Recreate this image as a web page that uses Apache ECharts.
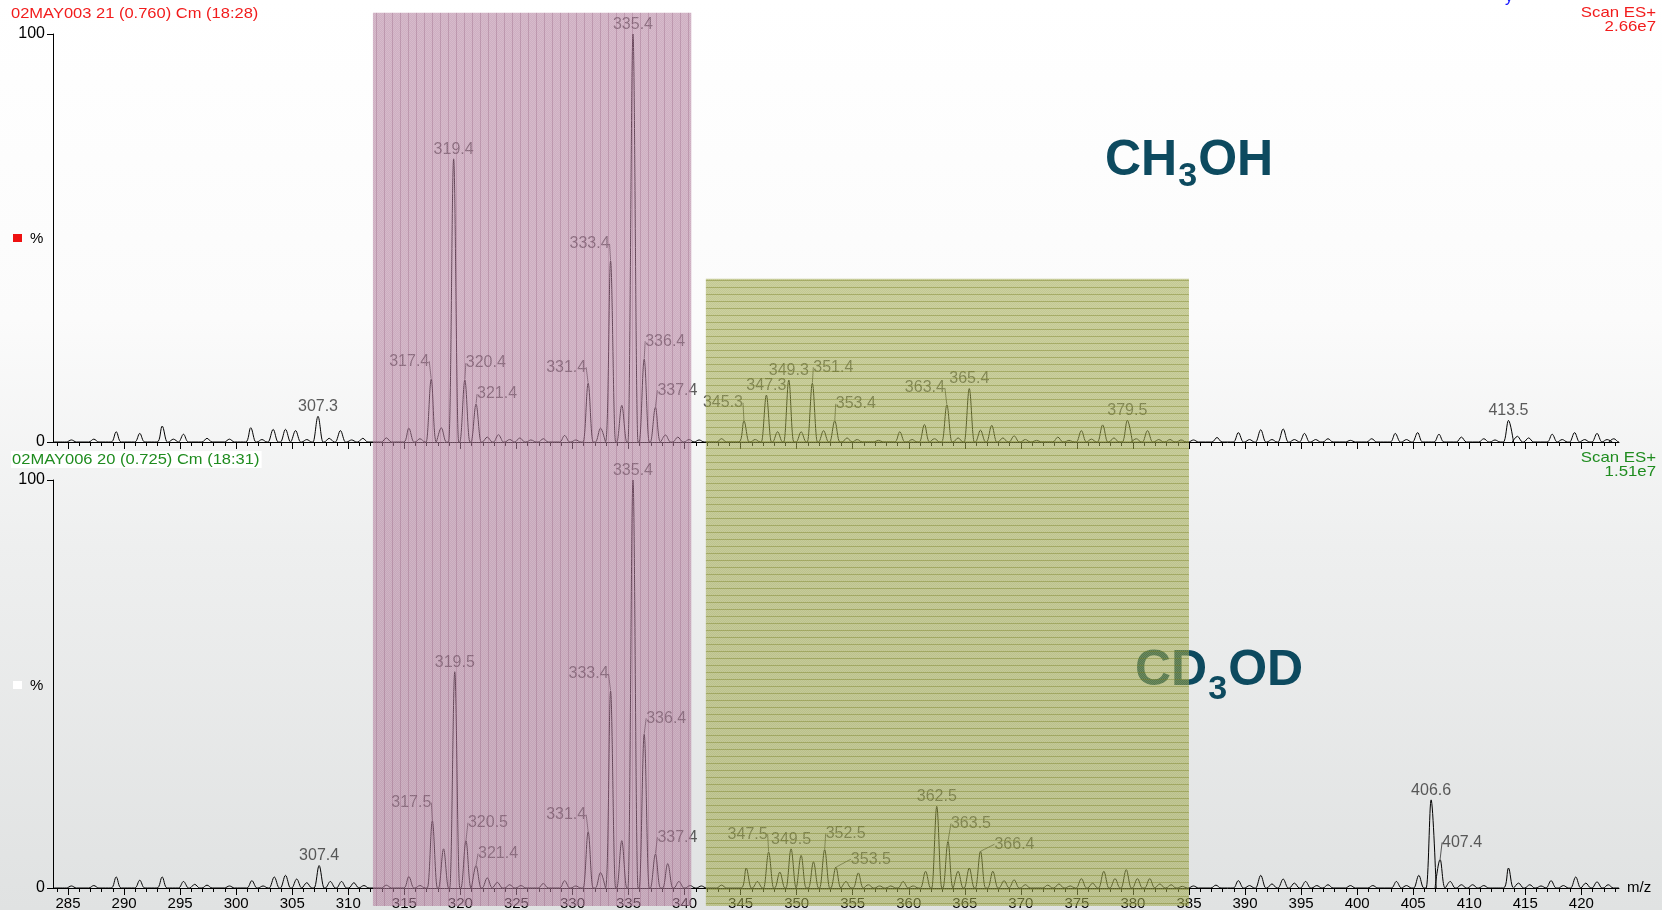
<!DOCTYPE html>
<html><head><meta charset="utf-8">
<script src="https://cdn.jsdelivr.net/npm/echarts@6/dist/echarts.min.js"></script>
<style>
html,body{margin:0;padding:0;}
#c{width:1662px;height:910px;background:linear-gradient(to bottom,#ffffff 0%,#fbfbfb 35%,#eeefef 60%,#e0e2e2 100%);}
</style></head><body><div id="c"></div>
<script>
// ---------- DATA ----------
const xMin = 283.66, xMax = 423.36;
const majorTicks = [285,290,295,300,305,310,315,320,325,330,335,340,345,350,355,360,365,370,375,380,385,390,395,400,405,410,415,420];
const minorTicks = [];
for (let v = 284; v <= 423; v++) minorTicks.push(v);

// top spectrum (CH3OH), relative intensity %
const topMz = [285.3,287.3,289.3,291.4,293.4,294.4,295.3,297.4,299.4,301.3,302.3,303.3,304.4,305.3,306.3,307.3,308.3,309.3,310.3,311.3,313.4,315.4,316.4,317.4,318.3,319.4,320.4,321.4,322.4,323.4,324.4,325.3,326.3,327.4,329.3,330.3,331.4,332.5,333.4,334.4,335.4,336.4,337.4,338.3,339.4,340.4,341.3,343.3,345.3,346.3,347.3,348.3,349.3,350.4,351.4,352.4,353.4,354.5,355.4,357.3,359.2,360.3,361.4,362.3,363.4,364.4,365.4,366.4,367.4,368.4,369.4,370.4,371.4,373.3,374.3,375.4,376.3,377.3,378.3,379.5,380.3,381.3,382.3,383.3,384.3,385.4,387.5,389.4,390.4,391.4,392.4,393.4,394.4,395.3,396.3,397.4,399.4,401.3,403.4,404.4,405.4,407.3,409.3,411.3,412.3,413.5,414.3,415.3,417.4,418.3,419.4,420.3,421.4,422.3,422.9];
const topInt = [0.5,0.7,2.5,2.1,3.9,0.7,1.9,0.9,0.7,3.5,0.6,3.1,3.1,2.8,0.6,6.3,0.9,2.8,0.5,0.9,1.0,3.4,0.8,15.4,3.5,69.4,15.2,9.3,1.2,1.8,0.6,1.0,0.5,0.8,1.6,0.5,14.4,3.4,44.4,9.0,100,20.3,8.5,1.7,1.2,0.6,0.5,0.8,5.2,0.6,11.5,2.5,15.2,2.5,14.4,2.8,5.2,1.0,0.6,0.4,2.5,0.6,4.3,0.8,9.1,1.0,13.1,2.9,4.1,1.0,1.5,0.6,0.4,1.2,0.4,2.8,0.7,4.2,1.0,5.3,0.8,2.8,0.6,0.6,0.5,0.5,1.1,2.3,0.6,3.0,0.6,3.2,0.6,2.1,0.6,0.8,0.4,0.8,2.1,0.6,2.3,1.9,1.2,0.8,0.5,5.3,1.4,1.0,1.9,0.6,2.3,0.6,2.1,0.6,0.8];

// bottom spectrum (CD3OD)
const botMz = [285.3,287.3,289.3,291.4,293.4,295.3,296.3,297.4,299.4,301.4,302.4,303.4,304.4,305.4,306.3,307.4,308.4,309.4,310.5,311.4,313.4,315.4,316.4,317.5,318.5,319.5,320.5,321.4,322.4,323.3,324.4,325.4,327.4,329.3,330.3,331.4,332.5,333.4,334.4,335.4,336.4,337.4,338.5,339.5,340.5,341.5,343.3,345.5,346.5,347.5,348.5,349.5,350.4,351.5,352.5,353.5,354.4,355.5,356.4,357.4,358.4,359.5,360.4,361.5,362.5,363.5,364.4,365.4,366.4,367.5,368.5,369.4,370.4,372.4,373.4,374.4,375.4,376.4,377.4,378.4,379.4,380.4,381.5,382.4,383.4,384.4,385.4,387.4,389.4,390.4,391.4,392.4,393.4,394.4,395.4,396.4,397.4,399.4,401.4,403.5,404.4,405.5,406.6,407.4,408.3,409.3,410.3,411.3,413.5,414.4,415.4,416.4,417.3,418.4,419.5,420.4,421.4,422.4];
const botInt = [0.5,0.6,2.7,1.9,2.7,1.6,0.9,0.7,0.5,1.8,0.5,2.7,3.1,2.2,1.3,5.5,1.6,1.6,1.3,0.6,0.7,2.8,0.6,16.5,9.6,53,11.6,5.5,2.5,1.4,0.8,0.6,1.1,1.8,0.5,13.8,3.8,48.3,11.6,100,37.7,8.3,6.0,1.6,0.6,0.5,0.7,4.9,1.6,8.8,3.9,9.6,8.0,6.4,9.4,5.1,1.6,3.7,0.8,0.5,0.5,1.6,0.5,4.1,20.0,11.4,4.1,4.9,9.0,4.1,1.8,2.0,0.8,0.7,1.0,0.5,2.3,1.2,4.1,2.3,4.5,2.3,2.3,1.0,0.8,0.4,0.5,0.7,1.8,0.6,3.1,1.0,2.2,1.2,1.6,0.6,0.8,0.6,0.6,1.6,0.6,3.1,21.6,7.0,1.6,0.8,0.8,0.6,4.9,1.2,0.8,0.5,1.8,0.6,2.7,1.2,1.5,0.8];

// labelled peaks
const topAboveLabels = ['307.3','319.4','335.4','347.3','349.3','365.4','379.5','413.5'];
const topLeaderLabels = ['317.4','320.4','321.4','331.4','333.4','336.4','337.4','345.3','351.4','353.4','363.4'];
const botAboveLabels = ['307.4','319.5','335.4','349.5','362.5','406.6'];
const botLeaderLabels = ['317.5','320.5','321.4','331.4','333.4','336.4','337.4','347.5','352.5','353.5','363.5','366.4','407.4'];

// highlighted m/z ranges
const regionFrom = [312.2, 341.9];
const regionTo = [340.6, 385.0];
const regionTopPct = [105.2, 40.0];   // upper edge, in % of the top panel
const regionBottomPct = -4.4;         // lower edge, in % of the bottom panel

// ---------- LAYOUT / STYLE ----------
const topLeaderOff = [[-22,-18],[21,-17],[21,-10],[-22,-16],[-21,-17],[21,-18],[22,-17],[-21,-18],[21,-16],[21,-17],[-22,-17]];
const botLeaderOff = [[-21,-18],[22,-18],[22,-12],[-22,-17],[-22,-17],[22,-16],[22,-17],[-21,-18],[21,-16],[35,-8],[23,-18],[34,-7],[22,-17]];
const HW = 0.45;
const FONT = "'Liberation Sans', Arial, sans-serif";

function profile(mz, inten) {
  const pts = [[xMin, 0]];
  for (let i = 0; i < mz.length; i++) {
    pts.push([mz[i] - HW, 0], [mz[i], inten[i]], [mz[i] + HW, 0]);
  }
  pts.push([xMax, 0]);
  return pts;
}
function labelData(labels, mz, inten) {
  return labels.map(t => {
    const v = parseFloat(t);
    let best = 0;
    for (let i = 0; i < mz.length; i++) if (Math.abs(mz[i] - v) < Math.abs(mz[best] - v)) best = i;
    return { value: [mz[best], inten[best]], name: t };
  });
}

const chart = echarts.init(document.getElementById('c'), null, { renderer: 'canvas' });

function xAxes(gridIndex, withLabels) {
  return [
    { type: 'value', gridIndex, position: 'bottom', min: xMin, max: xMax,
      name: withLabels ? 'm/z' : '', nameLocation: 'end', nameGap: 8,
      nameTextStyle: { color: '#000', fontSize: 15, fontFamily: FONT },
      axisLine: { show: true, lineStyle: { color: '#000', width: 1 } },
      axisTick: { show: true, customValues: majorTicks, length: 7, lineStyle: { color: '#000' } },
      axisLabel: { show: withLabels, customValues: majorTicks, color: '#000', fontSize: 15, fontFamily: FONT, margin: 8 },
      splitLine: { show: false } },
    { type: 'value', gridIndex, position: 'bottom', min: xMin, max: xMax,
      axisLine: { show: false },
      axisTick: { show: true, customValues: minorTicks, length: 4, lineStyle: { color: '#000' } },
      axisLabel: { show: false }, splitLine: { show: false } }
  ];
}
function yAxis(gridIndex) {
  return { type: 'value', gridIndex, min: 0, max: 100, interval: 100,
    axisLine: { show: true, lineStyle: { color: '#000' } },
    axisTick: { show: true, length: 6, lineStyle: { color: '#000' } },
    axisLabel: { color: '#000', fontSize: 16, fontFamily: FONT, margin: 8 },
    splitLine: { show: false } };
}
const lblStyle = { show: true, color: '#333', fontSize: 16, fontFamily: FONT, formatter: '{b}' };

function labelSeries(xi, yi, aboveData, leaderData, offs) {
  return [
    { type: 'scatter', xAxisIndex: xi, yAxisIndex: yi, symbolSize: 1, z: 5,
      itemStyle: { color: 'rgba(0,0,0,0)' }, silent: true,
      data: aboveData, label: Object.assign({ position: 'top', distance: 1 }, lblStyle) },
    { type: 'scatter', xAxisIndex: xi, yAxisIndex: yi, symbolSize: 1, z: 5,
      itemStyle: { color: 'rgba(0,0,0,0)' }, silent: true,
      data: leaderData, label: Object.assign({ position: 'inside' }, lblStyle),
      labelLayout: p => ({ dx: offs[p.dataIndex][0], dy: offs[p.dataIndex][1] }),
      labelLine: { show: true, lineStyle: { color: '#333', width: 0.8 } } }
  ];
}

const option = {
  animation: false,
  grid: [
    { left: 53, right: 43, top: 34, height: 408, outerBoundsMode: 'none', containLabel: false },
    { left: 53, right: 43, top: 480, height: 408, outerBoundsMode: 'none', containLabel: false }
  ],
  xAxis: xAxes(0, false).concat(xAxes(1, true)),
  yAxis: [yAxis(0), yAxis(1)],
  series: [
    { type: 'line', xAxisIndex: 0, yAxisIndex: 0, data: profile(topMz, topInt), showSymbol: false,
      smooth: 0.35, lineStyle: { color: '#000', width: 1 }, z: 3 },
    { type: 'line', xAxisIndex: 2, yAxisIndex: 1, data: profile(botMz, botInt), showSymbol: false,
      smooth: 0.35, lineStyle: { color: '#000', width: 1 }, z: 3 }
  ].concat(
    labelSeries(0, 0, labelData(topAboveLabels, topMz, topInt), labelData(topLeaderLabels, topMz, topInt), topLeaderOff),
    labelSeries(2, 1, labelData(botAboveLabels, botMz, botInt), labelData(botLeaderLabels, botMz, botInt), botLeaderOff)
  )
};
chart.setOption(option);

// ---------- annotations ----------
function makePattern(w, h, draw) {
  const c = document.createElement('canvas'); c.width = w; c.height = h;
  draw(c.getContext('2d')); return c;
}
const pinkPat = makePattern(8, 4, g => {
  g.fillStyle = 'rgba(170,112,146,0.56)'; g.fillRect(0, 0, 8, 4);
  for (let i = 0; i < 8; i++) for (let j = 0; j < 4; j++) if ((i + j) % 2 === 0) { g.fillStyle = 'rgba(255,255,255,0.14)'; g.fillRect(i, j, 1, 1); }
  g.fillStyle = 'rgba(130,75,108,0.26)'; g.fillRect(0, 0, 1, 4);
});
const olivePat = makePattern(4, 7, g => {
  g.fillStyle = 'rgba(152,160,62,0.55)'; g.fillRect(0, 0, 4, 7);
  for (let i = 0; i < 4; i++) for (let j = 0; j < 7; j++) if ((i + j) % 2 === 0) { g.fillStyle = 'rgba(255,255,255,0.12)'; g.fillRect(i, j, 1, 1); }
  g.fillStyle = 'rgba(118,126,28,0.40)'; g.fillRect(0, 0, 4, 1);
});
const pats = [pinkPat, olivePat];

const graphics = [];
for (let k = 0; k < regionFrom.length; k++) {
  const p1 = chart.convertToPixel({ gridIndex: 0 }, [regionFrom[k], regionTopPct[k]]);
  const p2 = chart.convertToPixel({ gridIndex: 1 }, [regionTo[k], regionBottomPct]);
  graphics.push({ type: 'rect', z: 100, silent: true,
    shape: { x: p1[0], y: p1[1], width: p2[0] - p1[0], height: p2[1] - p1[1] },
    style: { fill: { image: pats[k], repeat: 'repeat' } } });
}
const txt = (x, y, text, fill, extra, sx) => ({ type: 'text', x, y, z: 50, silent: true, scaleX: sx || 1,
  style: Object.assign({ text, fill, fontSize: 15, fontFamily: FONT }, extra || {}) });

// formula text with subscript, placed from measured widths
const measureCtx = document.createElement('canvas').getContext('2d');
function textW(s, size) { measureCtx.font = 'bold ' + size + 'px ' + FONT; return measureCtx.measureText(s).width; }
function formula(x, capMid, subMid, a, sub, b) {
  const col = '#0d4a5f';
  const base = { fontFamily: FONT, fontWeight: 'bold', fill: col, verticalAlign: 'middle' };
  const w1 = textW(a, 50), w2 = textW(sub, 34);
  return [
    { type: 'text', x: x, y: capMid, z: 50, silent: true, style: Object.assign({ text: a, fontSize: 50 }, base) },
    { type: 'text', x: x + w1 + 1, y: subMid, z: 50, silent: true, style: Object.assign({ text: sub, fontSize: 34 }, base) },
    { type: 'text', x: x + w1 + w2 + 2, y: capMid, z: 50, silent: true, style: Object.assign({ text: b, fontSize: 50 }, base) }
  ];
}

graphics.push(
  txt(11, 6, '02MAY003 21 (0.760) Cm (18:28)', '#f21c1c', null, 1.1),
  txt(1656, 6, 'Scan ES+\n2.66e7', '#f21c1c', { align: 'right', lineHeight: 14 }, 1.12),
  txt(1505, -10, 'y', '#1a1aff', { fontSize: 16 }),
  txt(11, 451, '02MAY006 20 (0.725) Cm (18:31)', '#1f8c1f', { backgroundColor: '#fff', padding: [1, 2, 1, 1] }, 1.1),
  txt(1656, 451, 'Scan ES+\n1.51e7', '#1f8c1f', { align: 'right', lineHeight: 14 }, 1.12),
  { type: 'rect', z: 50, shape: { x: 13, y: 234, width: 9, height: 8 }, style: { fill: '#ee1111' } },
  txt(30, 231, '%', '#000'),
  { type: 'rect', z: 50, shape: { x: 13, y: 681, width: 9, height: 8 }, style: { fill: '#ffffff' } },
  txt(30, 678, '%', '#000')
);
graphics.push.apply(graphics, formula(1105, 161, 177, 'CH', '3', 'OH'));
graphics.push.apply(graphics, formula(1135, 671, 690, 'CD', '3', 'OD'));
chart.setOption({ graphic: graphics });
</script>
</body></html>
